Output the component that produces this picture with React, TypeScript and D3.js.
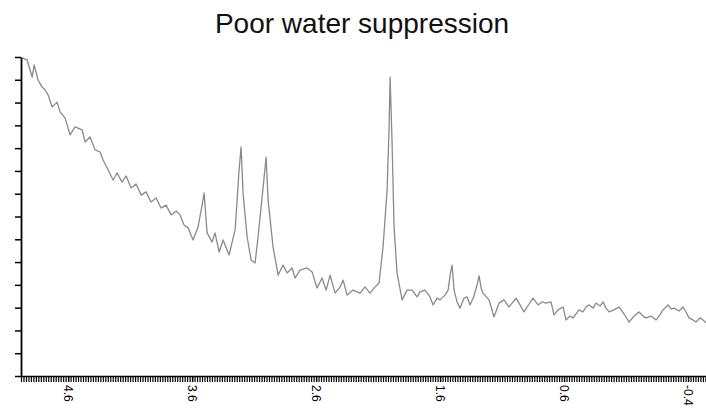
import { useRef, useEffect } from 'react';
import * as d3 from 'd3';

// chemical shift (ppm) and signal intensity
const ppm = [
  4.971, 4.931, 4.89, 4.874, 4.842, 4.81, 4.785, 4.761, 4.729, 4.689, 4.665, 4.624, 4.584, 4.544, 4.487,
  4.463, 4.423, 4.382, 4.342, 4.318, 4.285, 4.237, 4.205, 4.165, 4.132, 4.092, 4.052, 4.011, 3.971, 3.931,
  3.89, 3.85, 3.81, 3.769, 3.729, 3.697, 3.665, 3.632, 3.592, 3.552, 3.519, 3.503, 3.479, 3.439, 3.415,
  3.382, 3.35, 3.302, 3.253, 3.221, 3.205, 3.189, 3.156, 3.124, 3.092, 3.068, 3.027, 3.003, 2.987, 2.947,
  2.906, 2.866, 2.834, 2.794, 2.769, 2.729, 2.673, 2.632, 2.592, 2.552, 2.519, 2.487, 2.447, 2.406, 2.382,
  2.35, 2.302, 2.245, 2.205, 2.165, 2.124, 2.092, 2.06, 2.027, 2.011, 2.003, 1.987, 1.971, 1.947, 1.906,
  1.866, 1.826, 1.785, 1.761, 1.721, 1.681, 1.656, 1.624, 1.6, 1.56, 1.535, 1.519, 1.503, 1.487, 1.463,
  1.439, 1.406, 1.382, 1.358, 1.326, 1.302, 1.285, 1.269, 1.253, 1.205, 1.165, 1.124, 1.084, 1.044, 1.011,
  0.987, 0.955, 0.923, 0.882, 0.85, 0.81, 0.777, 0.745, 0.705, 0.681, 0.648, 0.608, 0.584, 0.552, 0.527,
  0.479, 0.447, 0.423, 0.398, 0.366, 0.342, 0.31, 0.285, 0.261, 0.237, 0.197, 0.156, 0.116, 0.076, 0.035,
  -0.005, -0.037, -0.061, -0.102, -0.142, -0.174, -0.198, -0.239, -0.263, -0.287, -0.327, -0.36, -0.384,
  -0.408, -0.44, -0.465, -0.497, -0.521, -0.545,
];
const intensity = [
  13.96, 13.87, 13.12, 13.65, 12.99, 12.68, 12.55, 12.33, 11.81, 12.02, 11.59, 11.32, 10.58, 10.93, 10.8,
  10.27, 10.49, 9.92, 9.83, 9.48, 9.13, 8.6, 8.91, 8.51, 8.78, 8.25, 8.43, 7.94, 8.08, 7.64,
  7.81, 7.37, 7.5, 7.07, 7.24, 7.07, 6.63, 6.5, 5.97, 6.54, 7.5, 8.03, 6.28, 5.88, 6.28,
  5.44, 5.97, 5.31, 6.41, 9.04, 10.05, 8.03, 6.1, 5.09, 4.96, 6.1, 8.29, 9.61, 7.72, 5.66,
  4.43, 4.87, 4.52, 4.74, 4.3, 4.65, 4.74, 4.56, 3.86, 4.3, 3.77, 4.43, 3.64, 3.91, 4.21,
  3.55, 3.77, 3.64, 3.91, 3.64, 3.91, 4.08, 5.66, 8.16, 10.93, 13.12, 10.23, 6.54, 4.52, 3.34,
  3.77, 3.77, 3.47, 3.69, 3.77, 3.47, 3.12, 3.42, 3.34, 3.55, 3.77, 4.43, 4.87, 3.77, 3.25,
  2.98, 3.42, 3.47, 3.12, 3.51, 3.99, 4.39, 3.86, 3.64, 3.34, 2.59, 3.2, 3.34, 3.03, 3.25,
  3.42, 3.12, 2.81, 3.16, 3.42, 3.12, 3.25, 3.2, 3.25, 2.68, 2.9, 3.03, 2.46, 2.63, 2.55,
  2.9, 2.81, 3.03, 3.12, 2.98, 3.2, 3.07, 3.25, 2.98, 2.81, 2.9, 3.03, 2.72, 2.37, 2.63,
  2.81, 2.63, 2.55, 2.63, 2.46, 2.68, 2.9, 3.12, 2.94, 2.98, 2.85, 3.03, 2.81,
  2.55, 2.46, 2.37, 2.55, 2.46, 2.33,
];
const xLabels = [4.6, 3.6, 2.6, 1.6, 0.6, -0.4];
const title = 'Poor water suppression';

export default function App() {
  const svgRef = useRef<SVGSVGElement>(null);
  const width = 706;
  const height = 410;

  useEffect(() => {
    const svg = d3.select(svgRef.current);
    svg.selectAll('*').remove();
    const margin = { top: 57, right: 0, bottom: 34, left: 21 };

    const x = d3.scaleLinear().domain([4.98, -0.545]).range([margin.left, width - margin.right]);
    const y = d3.scaleLinear().domain([0, 14]).range([height - margin.bottom, margin.top]);

    svg
      .append('text')
      .attr('x', 362)
      .attr('y', 33)
      .attr('text-anchor', 'middle')
      .attr('font-family', 'Liberation Sans, Arial, sans-serif')
      .attr('font-size', 28)
      .attr('fill', '#111')
      .text(title);

    const line = d3
      .line<number>()
      .x((d) => x(d))
      .y((_, i) => y(intensity[i]));

    svg
      .append('path')
      .attr('d', line(ppm))
      .attr('fill', 'none')
      .attr('stroke', '#8a8a8a')
      .attr('stroke-width', 1.3)
      .attr('stroke-linejoin', 'round');

    // minor ticks every 0.02 ppm
    const minor = d3.range(4.98, -0.55, -0.02);
    const xAxisG = svg.append('g').attr('transform', `translate(0,${height - margin.bottom})`);
    xAxisG
      .call(d3.axisBottom(x).tickValues(minor).tickSize(6).tickFormat(() => '').tickSizeOuter(0))
      .call((g) => g.selectAll('.tick line').attr('stroke', '#000').attr('stroke-width', 1.2))
      .call((g) => g.select('.domain').attr('stroke', '#000').attr('stroke-width', 1.6));

    const labelG = svg.append('g').attr('transform', `translate(0,${height - margin.bottom})`);
    labelG
      .call(
        d3
          .axisBottom(x)
          .tickValues(xLabels)
          .tickSize(6)
          .tickFormat((d) => (+d).toFixed(1))
      )
      .call((g) => g.select('.domain').remove())
      .call((g) => g.selectAll('.tick line').attr('stroke', '#000').attr('stroke-width', 1.4))
      .call((g) =>
        g
          .selectAll('.tick text')
          .attr('transform', 'rotate(90)')
          .attr('x', 9)
          .attr('y', 0)
          .attr('dy', '0.35em')
          .attr('text-anchor', 'start')
          .attr('font-family', 'Liberation Sans, Arial, sans-serif')
          .attr('font-size', 12)
          .attr('fill', '#000')
      );

    svg
      .append('g')
      .attr('transform', `translate(${margin.left},0)`)
      .call(d3.axisLeft(y).tickValues(d3.range(0, 15)).tickSize(6).tickFormat(() => '').tickSizeOuter(0))
      .call((g) => g.selectAll('.tick line').attr('stroke', '#000').attr('stroke-width', 1.5))
      .call((g) => g.select('.domain').attr('stroke', '#000').attr('stroke-width', 1.8));
  }, []);

  return (
    <svg
      ref={svgRef}
      width={width}
      height={height}
      style={{ position: 'absolute', left: 0, top: 0, background: '#fff' }}
    ></svg>
  );
}
